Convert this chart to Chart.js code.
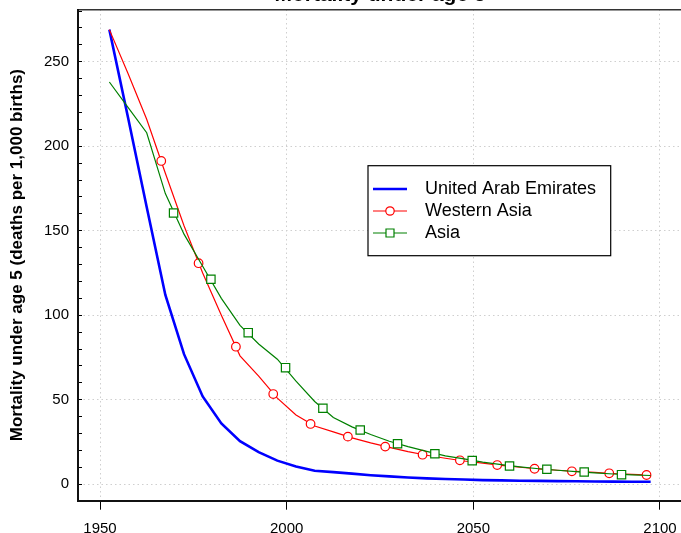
<!DOCTYPE html>
<html><head><meta charset="utf-8">
<script src="https://cdn.jsdelivr.net/npm/chart.js@4.4.1/dist/chart.umd.min.js"></script>
<style>
html,body{margin:0;padding:0;overflow:hidden;background:#fff;width:681px;height:533px;}
#wrap{position:absolute;left:0;top:-18px;width:690px;height:551px;}
</style></head><body>
<div id="wrap"><canvas id="c" width="690" height="551"></canvas></div>
<script>
// ---- data ----
const chartTitle = 'Mortality under age 5';
const yAxisTitle = 'Mortality under age 5 (deaths per 1,000 births)';
const years = [1952.5, 1957.5, 1962.5, 1967.5, 1972.5, 1977.5, 1982.5, 1987.5, 1992.5, 1997.5,
               2002.5, 2007.5, 2012.5, 2017.5, 2022.5, 2027.5, 2032.5, 2037.5, 2042.5, 2047.5,
               2052.5, 2057.5, 2062.5, 2067.5, 2072.5, 2077.5, 2082.5, 2087.5, 2092.5, 2097.5];
const uaeValues = [269, 217, 164, 112, 77, 52, 36, 25.5, 19, 14,
                   10.5, 8, 7.2, 6.3, 5.4, 4.7, 4.0, 3.5, 3.1, 2.8,
                   2.5, 2.3, 2.1, 2.0, 1.9, 1.8, 1.7, 1.6, 1.5, 1.5];
const westernAsiaValues = [269, 243, 216, 184, 153, 125, 100, 76, 64, 51,
                           41, 34.5, 31, 27.5, 24.5, 21.8, 19.3, 17.2, 15.4, 13.8,
                           12.5, 11.2, 10.1, 9.1, 8.3, 7.6, 7.0, 6.4, 5.9, 5.4];
const asiaValues = [238, 223, 208, 172, 148, 129, 110, 94, 83, 74,
                    61, 49, 39.5, 34, 29.5, 25.5, 22.3, 19.5, 16.8, 15.0,
                    13.1, 11.6, 10.3, 9.2, 8.3, 7.5, 6.8, 6.1, 5.6, 5.2];
const westernAsiaMarkerYears = [1966.4, 1976.4, 1986.4, 1996.4, 2006.4, 2016.4, 2026.4,
                                2036.4, 2046.4, 2056.4, 2066.4, 2076.4, 2086.4, 2096.4];
const westernAsiaMarkerValues = [191.3, 130.8, 81.4, 53.4, 35.7, 28.2, 22.3,
                                 17.5, 14.2, 11.4, 9.2, 7.7, 6.5, 5.5];
const asiaMarkerYears = [1969.7, 1979.7, 1989.7, 1999.7, 2009.7, 2019.7, 2029.7,
                         2039.7, 2049.7, 2059.7, 2069.7, 2079.7, 2089.7];
const asiaMarkerValues = [160.5, 121.3, 89.7, 69, 45, 32.1, 24,
                          18.1, 14, 10.8, 8.9, 7.3, 5.7];
const xTickValues = [1950, 2000, 2050, 2100];
const yTickValues = [0, 10, 20, 30, 40, 50, 60, 70, 80, 90, 100, 110, 120, 130, 140,
                     150, 160, 170, 180, 190, 200, 210, 220, 230, 240, 250, 260, 270, 280];
const yTickLabels = [0, 50, 100, 150, 200, 250];

// ---- chart ----
const FONT = '"Liberation Sans", Arial, Helvetica, sans-serif';
const pts = (xs, ys) => xs.map((x, i) => ({x: x, y: ys[i]}));
const GRID = '#cfcfcf';

const boxLegend = {
  id: 'boxLegend',
  afterDatasetsDraw(chart) {
    const ctx = chart.ctx, a = chart.chartArea;
    const bx = a.left + 290, by = a.top + 156.2, bw = 242.7, bh = 90;
    ctx.save();
    ctx.fillStyle = '#fff';
    ctx.fillRect(bx, by, bw, bh);
    ctx.strokeStyle = '#000';
    ctx.lineWidth = 1.2;
    ctx.strokeRect(bx, by, bw, bh);
    const items = chart.data.datasets.filter(d => d.legendEntry);
    items.forEach((d, i) => {
      const y = by + 23.3 + i * 22;
      ctx.strokeStyle = d.borderColor;
      ctx.lineWidth = d.borderWidth;
      ctx.beginPath();
      ctx.moveTo(bx + 5, y);
      ctx.lineTo(bx + 39, y);
      ctx.stroke();
      if (d.legendMarker) {
        ctx.fillStyle = '#fff';
        ctx.lineWidth = 1.2;
        ctx.strokeStyle = d.borderColor;
        ctx.beginPath();
        if (d.legendMarker === 'circle') {
          ctx.arc(bx + 22, y, 4.2, 0, Math.PI * 2);
        } else {
          ctx.rect(bx + 22 - 4, y - 4, 8, 8);
        }
        ctx.fill();
        ctx.stroke();
      }
      ctx.fillStyle = '#000';
      ctx.font = '18px ' + FONT;
      ctx.textBaseline = 'middle';
      ctx.textAlign = 'left';
      ctx.fillText(d.label, bx + 57, y + 0.5);
    });
    ctx.restore();
  }
};

new Chart(document.getElementById('c'), {
  type: 'line',
  data: {
    datasets: [
      {label: 'United Arab Emirates', data: pts(years, uaeValues), borderColor: '#0000ff', borderWidth: 2.6,
       pointRadius: 0, tension: 0, fill: false, order: 5, legendEntry: true},
      {label: 'Western Asia', data: pts(years, westernAsiaValues), borderColor: '#ff0000', borderWidth: 1.2,
       pointRadius: 0, tension: 0, fill: false, order: 4, legendEntry: true, legendMarker: 'circle'},
      {label: 'Western Asia markers', data: pts(westernAsiaMarkerYears, westernAsiaMarkerValues), showLine: false,
       borderColor: '#ff0000', backgroundColor: '#ffffff', pointStyle: 'circle', pointRadius: 4.3,
       pointBorderWidth: 1.2, pointBackgroundColor: '#ffffff', pointBorderColor: '#ff0000', order: 3},
      {label: 'Asia', data: pts(years, asiaValues), borderColor: '#008000', borderWidth: 1.2,
       pointRadius: 0, tension: 0, fill: false, order: 2, legendEntry: true, legendMarker: 'rect'},
      {label: 'Asia markers', data: pts(asiaMarkerYears, asiaMarkerValues), showLine: false,
       borderColor: '#008000', backgroundColor: '#ffffff', pointStyle: 'rect', pointRadius: 5.9,
       pointBorderWidth: 1.2, pointBackgroundColor: '#ffffff', pointBorderColor: '#008000', order: 1}
    ]
  },
  options: {
    responsive: false,
    animation: false,
    events: [],
    layout: {padding: {left: 0, right: 8, top: 0, bottom: 0}},
    plugins: {
      legend: {display: false},
      tooltip: {enabled: false},
      title: {display: true, text: chartTitle, fullSize: false, color: '#000',
              font: {family: FONT, size: 21, weight: 'bold', lineHeight: 1.2},
              padding: {top: 0.6, bottom: 1.7}}
    },
    scales: {
      x: {
        type: 'linear', position: 'bottom', min: 1944.1, max: 2105.9,
        afterBuildTicks: s => { s.ticks = xTickValues.map(v => ({value: v})); },
        afterFit: s => { s.height = 32.3; },
        ticks: {autoSkip: false, maxRotation: 0, color: '#000', padding: 10.5,
                font: {family: FONT, size: 15}, callback: v => String(v)},
        grid: {color: GRID, lineWidth: 1, tickLength: 9, tickColor: '#000', tickWidth: 1},
        border: {display: true, color: '#111', width: 2, dash: [1.5, 3]}
      },
      xTop: {
        type: 'linear', position: 'top', min: 1944.1, max: 2105.9,
        afterFit: s => { s.height = 0; },
        ticks: {display: false},
        grid: {display: false, drawTicks: false},
        border: {display: true, color: '#333', width: 1.6}
      },
      y: {
        type: 'linear', position: 'left', min: -9.7, max: 280.9,
        afterBuildTicks: s => { s.ticks = yTickValues.map(v => ({value: v})); },
        afterFit: s => { s.width = 78; },
        ticks: {autoSkip: false, color: '#000', padding: 13,
                font: {family: FONT, size: 15},
                callback: v => yTickLabels.includes(v) ? String(v) : ''},
        grid: {color: c => (c.tick && yTickLabels.includes(c.tick.value)) ? GRID : 'rgba(0,0,0,0)',
               lineWidth: 1, tickLength: -4, tickColor: '#000', tickWidth: 1},
        border: {display: true, color: '#111', width: 2, dash: [1.5, 3]},
        title: {display: true, text: yAxisTitle, color: '#000',
                font: {family: FONT, size: 17, weight: 'bold', lineHeight: 1.2},
                padding: {top: 7.3, bottom: 0}}
      }
    }
  },
  plugins: [boxLegend]
});
</script>
</body></html>
